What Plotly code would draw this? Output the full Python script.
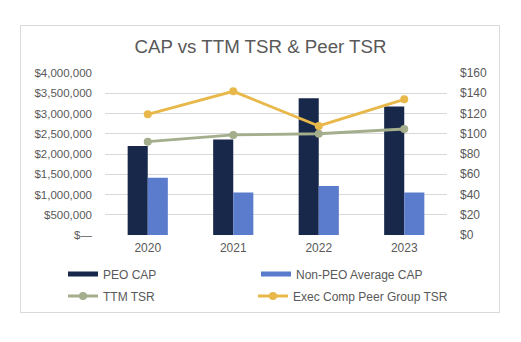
import plotly.graph_objects as go

years = ["2020", "2021", "2022", "2023"]
peo_cap = [2200000, 2360000, 3375000, 3170000]
non_peo_cap = [1415000, 1050000, 1210000, 1050000]
ttm_tsr = [92.2, 98.8, 100.0, 104.7]
peer_tsr = [119.2, 141.9, 107.7, 134.0]

left_ticks = [0, 500000, 1000000, 1500000, 2000000, 2500000, 3000000, 3500000, 4000000]
left_text = ["$—", "$500,000", "$1,000,000", "$1,500,000", "$2,000,000",
             "$2,500,000", "$3,000,000", "$3,500,000", "$4,000,000"]
right_ticks = [0, 20, 40, 60, 80, 100, 120, 140, 160]
right_text = ["$" + str(v) for v in right_ticks]

NAVY = "#18284a"
BLUE = "#5b7ccc"
SAGE = "#a4ae8c"
GOLD = "#e8b84a"
GRAY = "#595959"
FONT = "Liberation Sans, Arial, sans-serif"

fig = go.Figure()
fig.add_trace(go.Bar(x=years, y=peo_cap, name="PEO CAP", marker_color=NAVY,
                     marker_line_width=0, showlegend=False))
fig.add_trace(go.Bar(x=years, y=non_peo_cap, name="Non-PEO Average CAP", marker_color=BLUE,
                     marker_line_width=0, showlegend=False))
# legend swatches drawn as flat bars (like the reference)
fig.add_trace(go.Scatter(x=[None], y=[None], name="PEO CAP", mode="lines",
                         line=dict(color=NAVY, width=5), legend="legend", hoverinfo="skip"))
fig.add_trace(go.Scatter(x=[None], y=[None], name="Non-PEO Average CAP", mode="lines",
                         line=dict(color=BLUE, width=5), legend="legend2", hoverinfo="skip"))
fig.add_trace(go.Scatter(x=years, y=ttm_tsr, name="TTM TSR", mode="lines+markers",
                         line=dict(color=SAGE, width=2.8), marker=dict(size=8, color=SAGE),
                         yaxis="y2", legend="legend3"))
fig.add_trace(go.Scatter(x=years, y=peer_tsr, name="Exec Comp Peer Group TSR", mode="lines+markers",
                         line=dict(color=GOLD, width=2.8), marker=dict(size=8, color=GOLD),
                         yaxis="y2", legend="legend4"))

W, H = 521, 342
L, R, T, B = 105, 74, 73, 107
pw, ph = W - L - R, H - T - B

def px(x):
    return (x - L) / pw

def py(y):
    return (H - B - y) / ph

def leg(x, y):
    return dict(x=px(x), y=py(y), xanchor="left", yanchor="middle",
                font=dict(size=12, color=GRAY), bgcolor="rgba(0,0,0,0)",
                itemwidth=30, borderwidth=0)

fig.update_layout(
    width=W, height=H,
    margin=dict(l=L, r=R, t=T, b=B),
    paper_bgcolor="white", plot_bgcolor="white",
    font=dict(family=FONT, color=GRAY, size=12),
    title=dict(text="CAP vs TTM TSR & Peer TSR", x=0.5, xanchor="center",
               y=1 - 46 / H, yanchor="middle", font=dict(size=18.7, color=GRAY)),
    barmode="group", bargap=0.53, bargroupgap=0,
    xaxis=dict(showgrid=False, showline=False, ticks="", tickfont=dict(size=12, color=GRAY),
               ticklabelstandoff=4),
    yaxis=dict(range=[0, 4000000], tickvals=left_ticks, ticktext=left_text,
               showgrid=True, gridcolor="#d9d9d9", gridwidth=1, zeroline=False,
               showline=False, tickfont=dict(size=11.5, color=GRAY), ticklabelstandoff=12),
    yaxis2=dict(range=[0, 160], tickvals=right_ticks, ticktext=right_text,
                overlaying="y", side="right", showgrid=False, zeroline=False,
                tickfont=dict(size=12, color=GRAY), ticklabelstandoff=12),
    legend=leg(63, 274),
    legend2=leg(256, 274),
    legend3=leg(63, 296),
    legend4=leg(253, 296),
    showlegend=True,
    shapes=[dict(type="rect", xref="paper", yref="paper",
                 x0=px(20.5), x1=px(499.5), y0=py(312.5), y1=py(25.5),
                 line=dict(color="#d9d9d9", width=1), fillcolor="rgba(0,0,0,0)", layer="below")],
)

fig.write_html("out.html")
